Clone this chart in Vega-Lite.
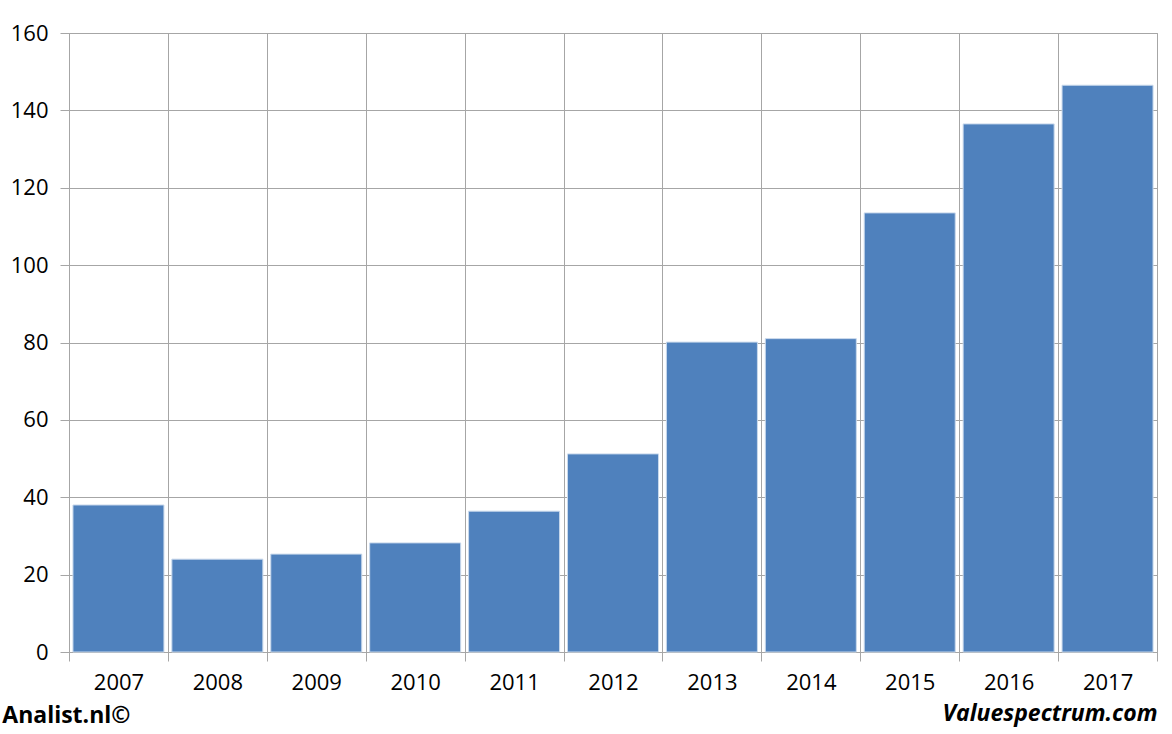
{
  "$schema": "https://vega.github.io/schema/vega-lite/v6.json",
  "width": 1088,
  "height": 619,
  "autosize": "none",
  "padding": {"left": 69, "top": 33, "right": 15, "bottom": 82},
  "background": "white",
  "config": {
    "view": {"stroke": "#a6a6a6", "strokeWidth": 1},
    "font": "Open Sans"
  },
  "title": {
    "text": "Analist.nl©",
    "orient": "bottom",
    "anchor": "start",
    "frame": "bounds",
    "font": "Open Sans",
    "fontSize": 23,
    "fontWeight": "bold",
    "color": "black",
    "offset": -20,
    "dx": -8
  },
  "data": {
    "values": [
      {"year": "2007", "value": 38.0},
      {"year": "2008", "value": 24.0},
      {"year": "2009", "value": 25.3},
      {"year": "2010", "value": 28.2},
      {"year": "2011", "value": 36.4},
      {"year": "2012", "value": 51.2},
      {"year": "2013", "value": 80.1},
      {"year": "2014", "value": 81.0},
      {"year": "2015", "value": 113.5},
      {"year": "2016", "value": 136.5},
      {"year": "2017", "value": 146.5}
    ]
  },
  "mark": {
    "type": "bar",
    "color": "#4f81bd",
    "stroke": "#c9d9ec",
    "strokeWidth": 1,
    "width": {"band": 0.92}
  },
  "encoding": {
    "x": {
      "field": "year",
      "type": "ordinal",
      "scale": {"paddingInner": 0, "paddingOuter": 0},
      "axis": {
        "labelAngle": 0,
        "tickBand": "extent",
        "grid": true,
        "gridColor": "#a6a6a6",
        "gridOpacity": 1,
        "tickSize": 9,
        "tickColor": "#a6a6a6",
        "domainColor": "#a6a6a6",
        "labelFont": "Open Sans",
        "labelFontSize": 22,
        "labelColor": "black",
        "labelPadding": 11,
        "title": "Valuespectrum.com",
        "titleAnchor": "end",
        "titleFont": "Open Sans",
        "titleFontSize": 23,
        "titleFontStyle": "italic",
        "titleFontWeight": "bold",
        "titleColor": "black",
        "titlePadding": 9
      }
    },
    "y": {
      "field": "value",
      "type": "quantitative",
      "scale": {"domain": [0, 160], "nice": false},
      "axis": {
        "values": [0, 20, 40, 60, 80, 100, 120, 140, 160],
        "grid": true,
        "gridColor": "#a6a6a6",
        "gridOpacity": 1,
        "tickSize": 9,
        "tickColor": "#a6a6a6",
        "domainColor": "#a6a6a6",
        "labelFont": "Open Sans",
        "labelFontSize": 22,
        "labelColor": "black",
        "labelPadding": 12,
        "title": null
      }
    }
  }
}
